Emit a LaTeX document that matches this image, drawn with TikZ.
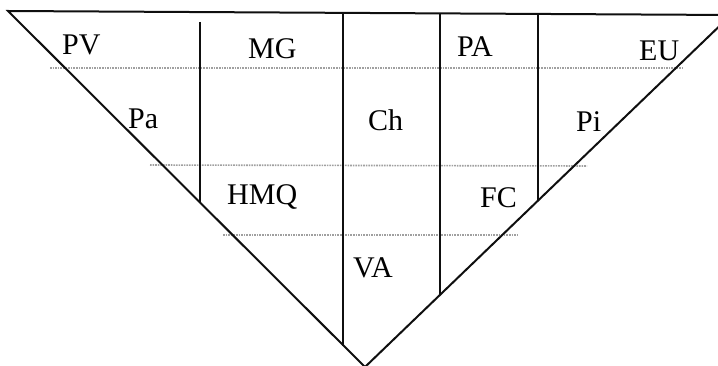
\documentclass[tikz,border=0pt]{standalone}
\usepackage{fontspec}
\setmainfont{Liberation Serif}
\usetikzlibrary{calc}
\definecolor{edgecolor}{RGB}{15,15,15}
\definecolor{guidecolor}{RGB}{160,160,160}
\tikzset{
  edge/.style  = {draw=edgecolor,line width=2pt,line join=miter},
  guide/.style = {draw=guidecolor,densely dotted,line width=1.6pt},
  lbl/.style   = {anchor=base west,inner sep=0pt,
                  font=\fontsize{30}{30}\selectfont},
}
\begin{document}
\begin{tikzpicture}[x=1pt,y=-1pt]
  \useasboundingbox (0,0) rectangle (718,366);
  \clip (0,0) rectangle (718,366);
  % corners of the triangle
  \coordinate (left)  at (8,11);
  \coordinate (right) at (731,15);
  \coordinate (apex)  at (365,367);
  % grey guide lines
  \draw[guide] (50,68)  -- (683,68);
  \draw[guide] (150,165) -- (587,166);
  \draw[guide] (223,235) -- (517,235);
  % triangle and dividers
  \draw[edge] (left) -- (right) -- (apex) -- cycle;
  \coordinate (v1top) at (200,22);  \coordinate (v1bot) at (200,203);
  \coordinate (v2top) at (343,13);  \coordinate (v2bot) at (343,346);
  \coordinate (v3top) at (440,14);  \coordinate (v3bot) at (440,294);
  \coordinate (v4top) at (538,15);  \coordinate (v4bot) at (538,200);
  \draw[edge] (v1top) -- (v1bot);
  \draw[edge] (v2top) -- (v2bot);
  \draw[edge] (v3top) -- (v3bot);
  \draw[edge] (v4top) -- (v4bot);
  % labels
  \node[lbl] (pv)  at (62,55)   {PV};
  \node[lbl] (mg)  at (248,59)  {MG};
  \node[lbl] (pa2) at (457,57)  {PA};
  \node[lbl] (eu)  at (639,61)  {EU};
  \node[lbl] (pa)  at (128,129) {Pa};
  \node[lbl] (ch)  at (368,131) {Ch};
  \node[lbl] (pi)  at (576,132) {Pi};
  \node[lbl] (hmq) at (227,205) {HMQ};
  \node[lbl] (fc)  at (480,208) {FC};
  \node[lbl] (va)  at (353,278) {VA};
\end{tikzpicture}
\end{document}
